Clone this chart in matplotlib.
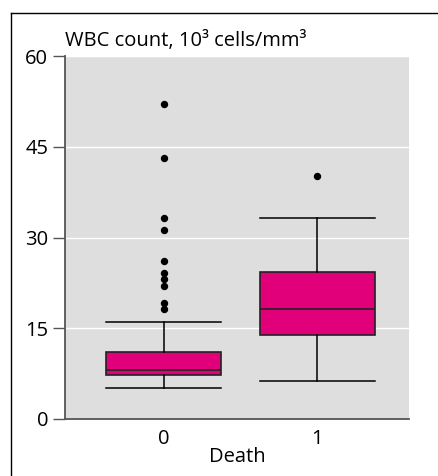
import matplotlib
matplotlib.use("Agg")
import matplotlib.pyplot as plt
from matplotlib.lines import Line2D

plt.rcParams["font.family"] = ["Open Sans", "DejaVu Sans"]

# box summaries (WBC count, 10^3 cells/mm^3)
groups = ["0", "1"]
whislo = [5.1, 6.2]
q1 = [7.3, 13.9]
med = [8.1, 18.1]
q3 = [11.1, 24.3]
whishi = [16.1, 33.2]
fliers = [
    [52.1, 43.1, 33.2, 31.2, 26.1, 24.1, 23.1, 22.0, 19.1, 18.1],
    [40.2],
]
yticks = [0, 15, 30, 45, 60]

MAGENTA = "#e2007a"
BG = "#dedede"

stats = [
    {"label": g, "whislo": lo, "q1": a, "med": m, "q3": b, "whishi": hi, "fliers": f}
    for g, lo, a, m, b, hi, f in zip(groups, whislo, q1, med, q3, whishi, fliers)
]

fig = plt.figure(figsize=(4.38, 4.76), dpi=100)
ax = fig.add_axes([65 / 438, 1 - 419 / 476, 344 / 438, 363 / 476])
ax.set_facecolor(BG)

ax.bxp(stats, positions=[0, 1], widths=0.75, patch_artist=True,
       boxprops=dict(facecolor=MAGENTA, edgecolor="#222222", linewidth=1.2),
       medianprops=dict(color="#222222", linewidth=1.2),
       whiskerprops=dict(color="black", linewidth=1.1),
       capprops=dict(color="black", linewidth=1.1),
       capwidths=0.75,
       flierprops=dict(marker="o", markersize=4.3, markerfacecolor="black",
                       markeredgecolor="black"),
       zorder=3)

ax.set_xlim(-0.64, 1.595)
ax.set_ylim(0, 60)
ax.set_yticks(yticks)
ax.set_xticks([0, 1])
ax.set_xticklabels(groups)
ax.yaxis.grid(True, color="white", linewidth=1.0)
ax.set_axisbelow(True)

for s in ("top", "right"):
    ax.spines[s].set_visible(False)
for s in ("left", "bottom"):
    ax.spines[s].set_color("#555555")
    ax.spines[s].set_linewidth(1.3)

ax.tick_params(axis="y", length=8.5, width=1.0, color="#555555", pad=3.5,
               labelsize=14.5)
ax.tick_params(axis="x", length=0, pad=7, labelsize=14.5)
ax.set_xlabel("Death", fontsize=14.5, labelpad=-1)

ax.text(0, 1 + 10 / 363, "WBC count, 10³ cells/mm³", transform=ax.transAxes,
        ha="left", va="baseline", fontsize=14.5)

# border lines of the original panel (left and top only)
fig.add_artist(Line2D([10.5 / 438, 10.5 / 438], [0, 1 - 12.5 / 476],
                      transform=fig.transFigure, color="black", linewidth=1.0))
fig.add_artist(Line2D([10.5 / 438, 1], [1 - 12.5 / 476, 1 - 12.5 / 476],
                      transform=fig.transFigure, color="black", linewidth=1.0))

fig.savefig("out.png", dpi=100)
